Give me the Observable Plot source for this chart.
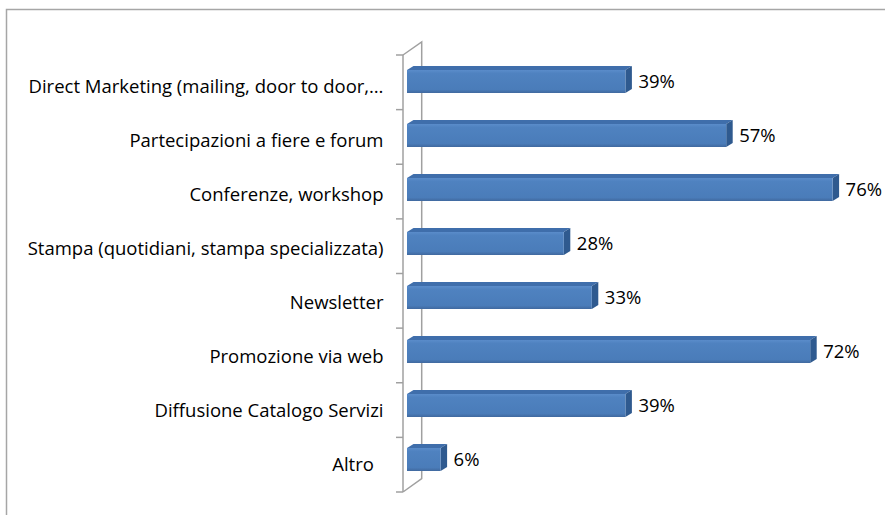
<!DOCTYPE html>
<html>
<head>
<meta charset="utf-8">
<script src="https://cdn.jsdelivr.net/npm/d3@7"></script>
<script src="https://cdn.jsdelivr.net/npm/@observablehq/plot@0.6"></script>
<style>
  html, body { margin: 0; padding: 0; background: #fff; }
  #chart svg { display: block; }
</style>
</head>
<body>
<div id="chart"></div>
<script>
const categories = [
  "Direct Marketing (mailing, door to door,…",
  "Partecipazioni a fiere e forum",
  "Conferenze, workshop",
  "Stampa (quotidiani, stampa specializzata)",
  "Newsletter",
  "Promozione via web",
  "Diffusione Catalogo Servizi",
  "Altro\u00a0\u00a0"
];
const values = [39, 57, 76, 28, 33, 72, 39, 6];

const rows = categories.map((c, i) => ({category: c, value: values[i]}));

const FONT = "Open Sans";
const FS = 18.5;
const BAR_DY = -3;
const DEPTH_X = 6.5, DEPTH_Y = 4;

function defs() {
  const d = d3.create("svg:defs");
  const g = d.append("linearGradient").attr("id", "frontGrad")
    .attr("x1", 0).attr("y1", 0).attr("x2", 0).attr("y2", 1);
  g.append("stop").attr("offset", "0%").attr("stop-color", "#5a8cca");
  g.append("stop").attr("offset", "15%").attr("stop-color", "#4f82c0");
  g.append("stop").attr("offset", "85%").attr("stop-color", "#4a7cb9");
  g.append("stop").attr("offset", "100%").attr("stop-color", "#40699f");
  return d.node();
}

function frame(index, scales, values, dims) {
  const g = d3.create("svg:g").attr("fill", "none");
  g.append("path")
    .attr("d", `M6.5,${dims.height}V9.5H${dims.width}`)
    .attr("stroke", "#a6a6a6").attr("stroke-width", 1.5);
  return g.node();
}

function walls(index, scales, values, dims) {
  const x0 = scales.x(0);
  const top = dims.marginTop, bottom = dims.height - dims.marginBottom;
  const n = categories.length;
  const step = (bottom - top) / n;
  const fx = x0 - 4, bx = x0 + 14.7, off = 13;
  const g = d3.create("svg:g").attr("fill", "none").attr("stroke", "#a0a0a0").attr("stroke-width", 1.5);
  g.append("path").attr("d", `M${fx},${top}V${bottom}`);
  g.append("path").attr("d", `M${fx},${top}L${bx},${top - off}V${bottom - off - 0.5}L${fx},${bottom}`);
  for (let i = 0; i <= n; i++) {
    const y = top + i * step;
    g.append("path").attr("d", `M${fx - 7},${y}H${fx}`);
  }
  return g.node();
}

function faces(index, scales, values, dims) {
  const x = scales.x, y = scales.y;
  const bw = y.bandwidth();
  const g = d3.create("svg:g");
  rows.forEach(d => {
    const x0 = x(0), x1 = x(d.value);
    const yt = y(d.category) + BAR_DY, yb = yt + bw;
    g.append("polygon")
      .attr("points", [[x0, yt], [x0 + DEPTH_X, yt - DEPTH_Y], [x1 + DEPTH_X, yt - DEPTH_Y], [x1, yt]].join(" "))
      .attr("fill", "#3f6eab");
    g.append("polygon")
      .attr("points", [[x1, yt], [x1 + DEPTH_X, yt - DEPTH_Y], [x1 + DEPTH_X, yb - DEPTH_Y], [x1, yb]].join(" "))
      .attr("fill", "#2f5a8f");
  });
  return g.node();
}

const chart = Plot.plot({
  width: 885,
  height: 515,
  marginLeft: 407,
  marginRight: 30,
  marginTop: 55,
  marginBottom: 23,
  style: {fontFamily: FONT, fontSize: FS + "px", color: "#000", background: "#fff"},
  x: {domain: [0, 80], axis: null},
  y: {domain: categories, paddingInner: 0.58, paddingOuter: 0.29, axis: null},
  marks: [
    defs,
    frame,
    walls,
    Plot.axisY({tickSize: 0, tickPadding: 24, fontSize: FS, dy: 2, fill: "#000", label: null}),
    faces,
    Plot.barX(rows, {x: "value", y: "category", fill: "url(#frontGrad)", dy: BAR_DY}),
    Plot.text(rows, {x: "value", y: "category", text: d => d.value + "%", textAnchor: "start", dx: 12.5, dy: -3, fontSize: FS, fill: "#000"})
  ]
});

document.getElementById("chart").appendChild(chart);
</script>
</body>
</html>
